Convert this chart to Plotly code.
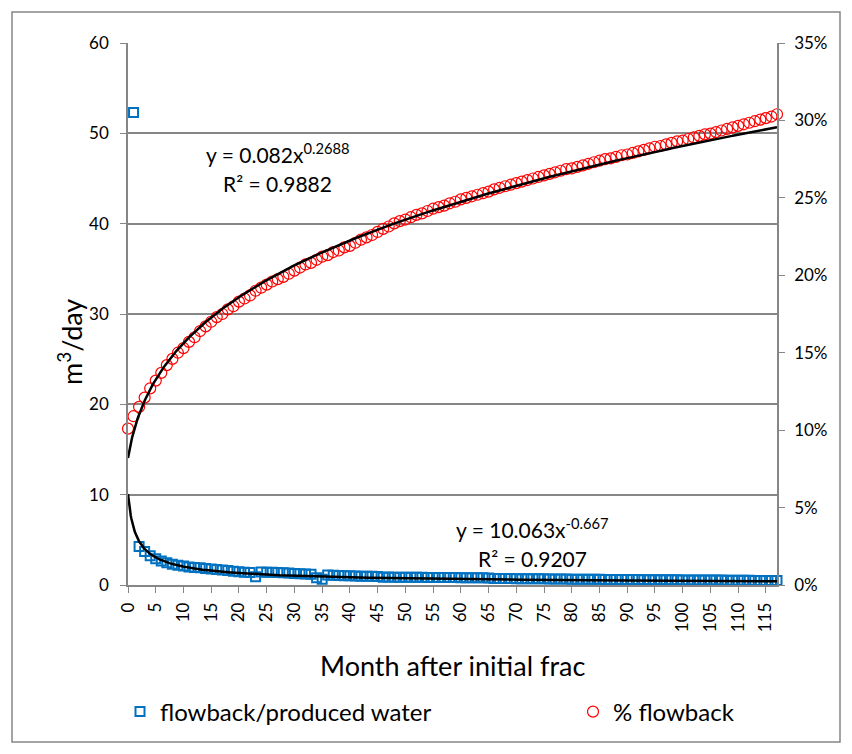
import plotly.graph_objects as go

# ---- data ----
months = list(range(0, 118))

water_months = list(range(1, 118))
water_m3_day = [
    52.3, 4.25, 3.7, 3.25, 2.9, 2.65, 2.45, 2.3, 2.2, 2.1,
    2.0, 1.95, 1.9, 1.82, 1.77, 1.72, 1.65, 1.6, 1.53, 1.48,
    1.42, 1.37, 0.9, 1.45, 1.42, 1.4, 1.38, 1.35, 1.32, 1.28,
    1.25, 1.22, 1.18, 0.8, 0.65, 1.1, 1.08, 1.05, 1.03, 1.02,
    1.0, 0.98, 0.97, 0.96, 0.95, 0.85, 0.88, 0.87, 0.87, 0.86,
    0.86, 0.85, 0.85, 0.84, 0.84, 0.83, 0.83, 0.82, 0.82, 0.81,
    0.81, 0.8, 0.8, 0.79, 0.78, 0.72, 0.72, 0.71, 0.71, 0.7,
    0.7, 0.69, 0.69, 0.68, 0.68, 0.67, 0.67, 0.66, 0.66, 0.65,
    0.65, 0.64, 0.64, 0.63, 0.63, 0.62, 0.62, 0.61, 0.61, 0.6,
    0.6, 0.6, 0.59, 0.59, 0.58, 0.58, 0.58, 0.57, 0.57, 0.56,
    0.56, 0.56, 0.55, 0.55, 0.54, 0.54, 0.54, 0.53, 0.53, 0.52,
    0.52, 0.52, 0.51, 0.51, 0.5, 0.5, 0.49,
]

pct_flowback = [
    10.1, 10.9, 11.5, 12.1, 12.7, 13.2, 13.7, 14.2, 14.6, 15.0,
    15.3, 15.7, 16.0, 16.4, 16.7, 17.0, 17.3, 17.5, 17.8, 18.0,
    18.3, 18.5, 18.7, 19.0, 19.2, 19.4, 19.6, 19.75, 19.9, 20.1,
    20.3, 20.5, 20.7, 20.8, 21.0, 21.2, 21.3, 21.5, 21.6, 21.8,
    21.9, 22.1, 22.3, 22.45, 22.6, 22.8, 23.0, 23.15, 23.35, 23.5,
    23.6, 23.75, 23.9, 24.0, 24.15, 24.3, 24.4, 24.5, 24.65, 24.75,
    24.9, 25.0, 25.1, 25.2, 25.3, 25.4, 25.55, 25.65, 25.75, 25.85,
    25.95, 26.05, 26.15, 26.25, 26.35, 26.45, 26.55, 26.65, 26.75, 26.85,
    26.9, 27.0, 27.1, 27.2, 27.3, 27.4, 27.5, 27.55, 27.65, 27.75,
    27.8, 27.9, 28.0, 28.1, 28.2, 28.3, 28.35, 28.45, 28.55, 28.65,
    28.7, 28.8, 28.9, 29.0, 29.1, 29.15, 29.25, 29.35, 29.45, 29.55,
    29.65, 29.75, 29.85, 29.95, 30.05, 30.15, 30.25, 30.4,
]

# power-law trendline coefficients (Excel category index = month + 1)
water_fit_a, water_fit_b = 10.063, -0.667
pct_fit_a, pct_fit_b = 0.082, 0.2688

x_ticks = list(range(0, 116, 5))

# ---- trendline curves from the fit coefficients ----
fine_x = [i / 10 for i in range(0, 1171)]
water_trend = [water_fit_a * (x + 1) ** water_fit_b for x in fine_x]
pct_trend = [pct_fit_a * (x + 1) ** pct_fit_b * 100 for x in fine_x]

FONT = "Lato, 'Liberation Sans', sans-serif"
GRAY = "#868686"

fig = go.Figure()

fig.add_trace(go.Scatter(
    x=water_months, y=water_m3_day, mode="markers",
    name="flowback/produced water",
    marker=dict(symbol="square-open", size=9, color="#0070C0",
                line=dict(width=2, color="#0070C0")),
    cliponaxis=False, legend="legend",
))
fig.add_trace(go.Scatter(
    x=fine_x, y=water_trend, mode="lines", showlegend=False,
    line=dict(color="black", width=2.5), hoverinfo="skip",
))
fig.add_trace(go.Scatter(
    x=months, y=pct_flowback, mode="markers", yaxis="y2",
    name="% flowback",
    marker=dict(symbol="circle-open", size=11, color="#FF0000",
                line=dict(width=1.2, color="#FF0000")),
    cliponaxis=False, legend="legend2",
))
fig.add_trace(go.Scatter(
    x=fine_x, y=pct_trend, mode="lines", yaxis="y2", showlegend=False,
    line=dict(color="black", width=2.5), hoverinfo="skip",
))

# page offset of 8px (body margin) -> layout coords = screen - 8
OFF = 8
W, H = 836, 738
L, T = 128 - OFF, 43 - OFF
R = W - (777 - OFF)
B = H - (585 - OFF)
pw, ph = W - L - R, H - T - B


def px(xpix):
    return (xpix - OFF - L) / pw


def py(ypix):
    return (H - B - (ypix - OFF)) / ph


fig.update_layout(
    width=W, height=H,
    margin=dict(l=L, r=R, t=T, b=B),
    paper_bgcolor="white", plot_bgcolor="white",
    font=dict(family=FONT, color="black", size=17),
    xaxis=dict(
        range=[0, 117], tickvals=x_ticks, ticktext=[str(v) for v in x_ticks],
        tickangle=-90, showgrid=False, zeroline=False,
        showline=True, linecolor=GRAY, linewidth=1.5,
        ticks="outside", ticklen=6, tickcolor=GRAY,
        tickfont=dict(size=17, family=FONT), ticklabelstandoff=3,
    ),
    yaxis=dict(
        range=[0, 60], dtick=10, showgrid=True, gridcolor=GRAY, gridwidth=1.5,
        zeroline=False, showline=True, linecolor=GRAY, linewidth=1.5,
        ticks="outside", ticklen=6, tickcolor=GRAY,
        tickfont=dict(size=17, family=FONT), ticklabelstandoff=8,
    ),
    yaxis2=dict(
        range=[0, 35], dtick=5, ticksuffix="%", overlaying="y", side="right",
        showgrid=False, zeroline=False, showline=True, linecolor=GRAY,
        linewidth=1.5, ticks="outside", ticklen=6, tickcolor=GRAY,
        tickfont=dict(size=17, family=FONT), ticklabelstandoff=6,
    ),
    legend=dict(
        orientation="h", x=px(120), xanchor="left", y=py(712), yanchor="middle",
        font=dict(size=24, family=FONT), bgcolor="rgba(0,0,0,0)",
    ),
    legend2=dict(
        orientation="h", x=px(573), xanchor="left", y=py(712), yanchor="middle",
        font=dict(size=24, family=FONT), bgcolor="rgba(0,0,0,0)",
    ),
    showlegend=True,
    shapes=[dict(
        type="rect", xref="paper", yref="paper",
        x0=px(12), x1=px(840), y0=py(742), y1=py(12),
        line=dict(color=GRAY, width=1.5), fillcolor="rgba(0,0,0,0)", layer="below",
    )],
    annotations=[
        dict(text="m<sup>3</sup>/day", textangle=-90, xref="paper", yref="paper",
             x=px(70), y=py(342), xanchor="center", yanchor="middle",
             showarrow=False, font=dict(size=27, family=FONT)),
        dict(text="Month after initial frac", xref="paper", yref="paper",
             x=px(452), y=py(665), xanchor="center", yanchor="middle",
             showarrow=False, font=dict(size=27, family=FONT)),
        dict(text="y = 0.082x<sup>0.2688</sup>", xref="paper", yref="paper",
             x=px(277), y=py(153), xanchor="center", yanchor="middle",
             showarrow=False, font=dict(size=21, family=FONT)),
        dict(text="R² = 0.9882", xref="paper", yref="paper",
             x=px(277), y=py(183), xanchor="center", yanchor="middle",
             showarrow=False, font=dict(size=21, family=FONT)),
        dict(text="y = 10.063x<sup>-0.667</sup>", xref="paper", yref="paper",
             x=px(532), y=py(528), xanchor="center", yanchor="middle",
             showarrow=False, font=dict(size=21, family=FONT)),
        dict(text="R² = 0.9207", xref="paper", yref="paper",
             x=px(532), y=py(558), xanchor="center", yanchor="middle",
             showarrow=False, font=dict(size=21, family=FONT)),
    ],
)

fig.write_html("out.html")
